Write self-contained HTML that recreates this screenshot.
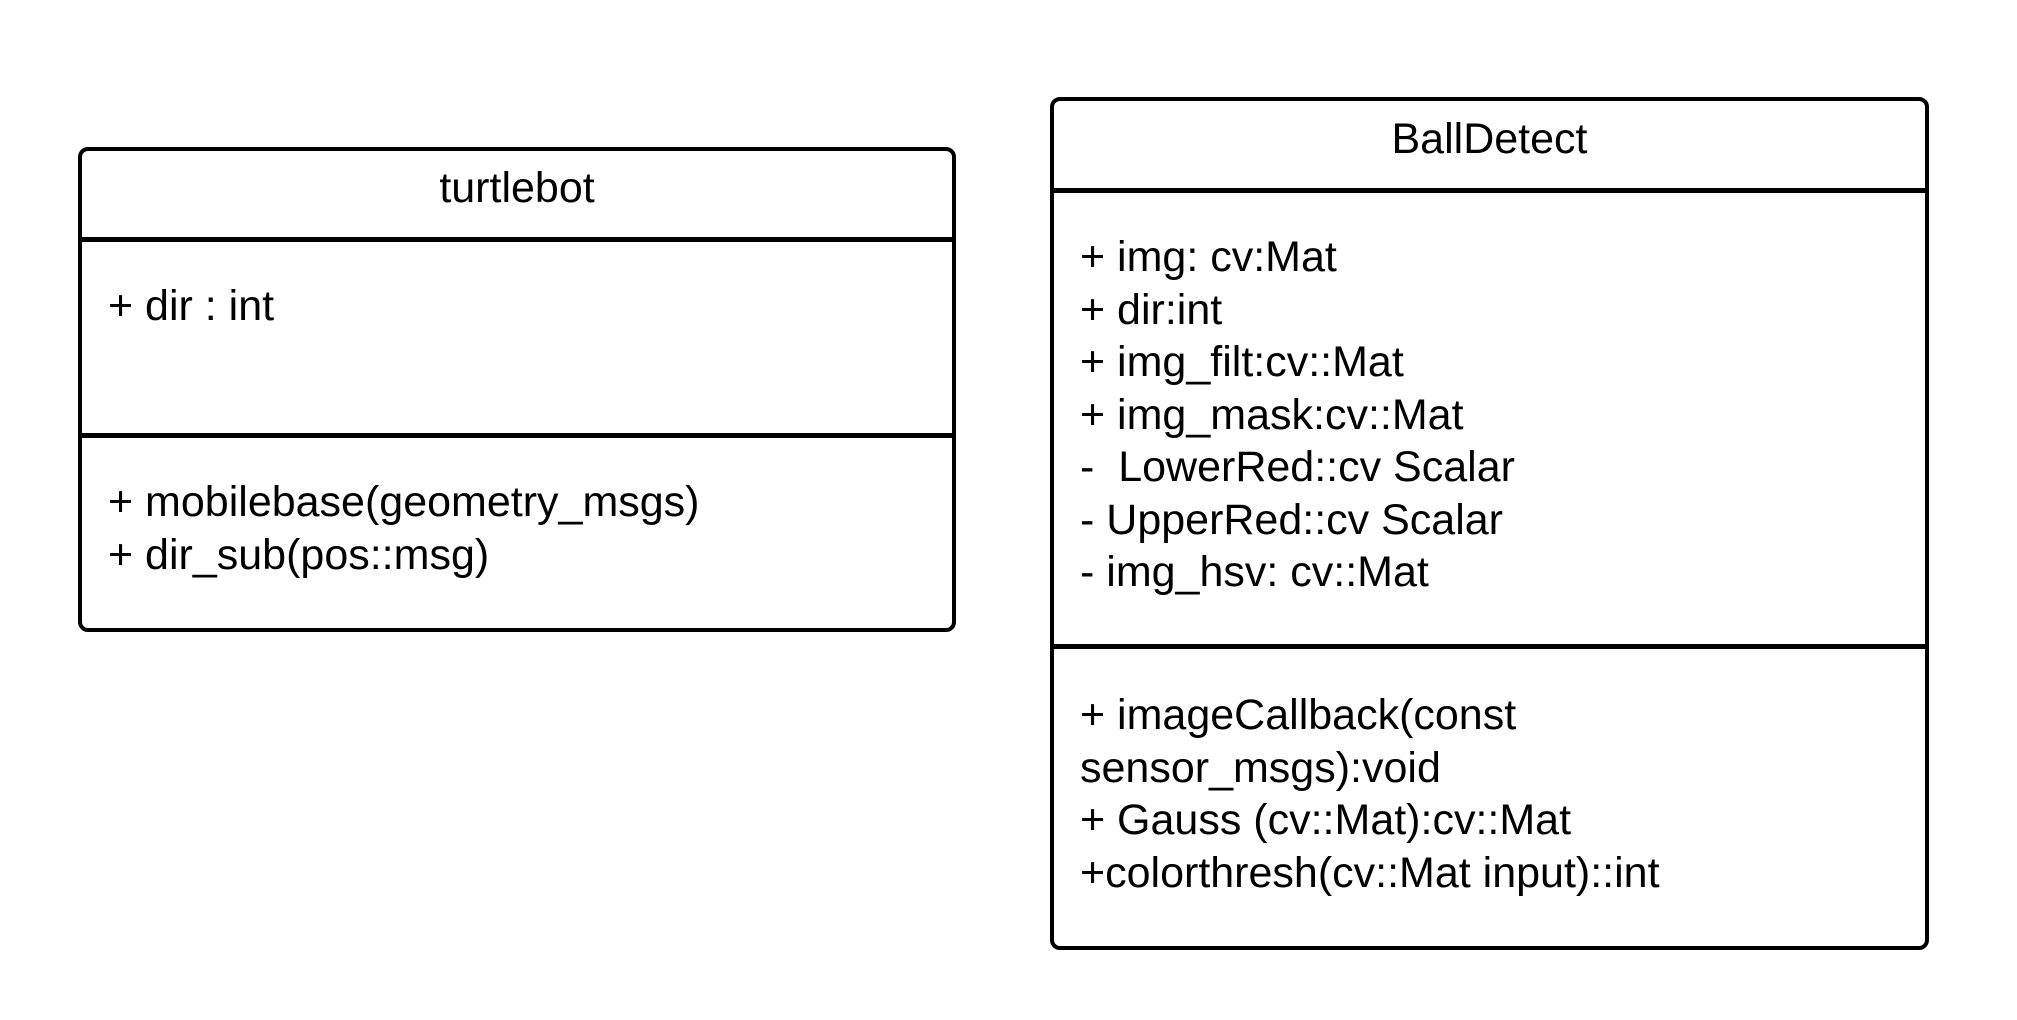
<!DOCTYPE html>
<html><head><style>
body{margin:0;width:2017px;height:1020px;background:#fff;position:relative;overflow:hidden;font-family:"Liberation Sans",sans-serif;color:#000}
.box{position:absolute;border:4px solid #000;border-radius:10px;box-sizing:border-box}
.hl{position:absolute;height:5px;background:#000}
.t{position:absolute;font-size:43px;line-height:52.5px;white-space:pre}
</style></head><body>
<div class="box" style="left:78px;top:147px;width:878px;height:485px"></div>
<div class="hl" style="left:78px;top:237px;width:878px"></div>
<div class="hl" style="left:78px;top:433px;width:878px"></div>
<div class="t" style="left:78px;width:878px;text-align:center;top:162px">turtlebot</div>
<div class="t" style="left:108px;top:280px">+ dir : int</div>
<div class="t" style="left:108px;top:476px">+ mobilebase(geometry_msgs)
+ dir_sub(pos::msg)</div>

<div class="box" style="left:1050px;top:97px;width:879px;height:853px"></div>
<div class="hl" style="left:1050px;top:188px;width:879px"></div>
<div class="hl" style="left:1050px;top:644px;width:879px"></div>
<div class="t" style="left:1050px;width:879px;text-align:center;top:113px">BallDetect</div>
<div class="t" style="left:1080px;top:231px">+ img: cv:Mat
+ dir:int
+ img_filt:cv::Mat
+ img_mask:cv::Mat
-  LowerRed::cv Scalar
- UpperRed::cv Scalar
- img_hsv: cv::Mat</div>
<div class="t" style="left:1080px;top:689px">+ imageCallback(const
sensor_msgs):void
+ Gauss (cv::Mat):cv::Mat
+colorthresh(cv::Mat input)::int</div>
</body></html>
